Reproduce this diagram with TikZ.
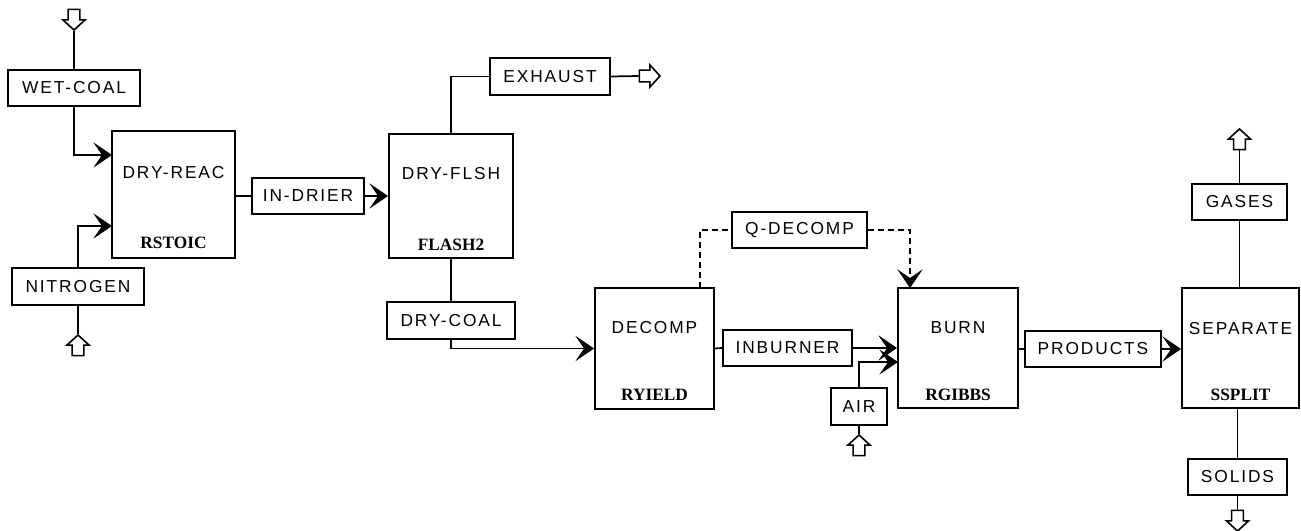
\documentclass[tikz,border=0pt]{standalone}
\usepackage{fontspec}
\newfontfamily\streamfont[LetterSpace=11]{Liberation Sans}
\newfontfamily\modelfont{Liberation Serif}
\usetikzlibrary{arrows.meta,shapes.arrows}

\begin{document}
\begin{tikzpicture}[x=0.75pt, y=-0.75pt,
    flow/.style={line width=1.3pt},
    flowto/.style={line width=1.3pt, -{Stealth[length=14pt,width=19pt,inset=6.5pt]}},
    heat/.style={line width=1.3pt, dash pattern=on 4.5pt off 3pt},
    stream/.style={draw, line width=1.4pt, inner sep=0pt, minimum height=27.5pt,
        font=\streamfont\fontsize{13}{13}\selectfont},
    block/.style={draw, line width=1.4pt, inner sep=0pt},
    blockname/.style={inner sep=0pt, font=\streamfont\fontsize{13}{13}\selectfont},
    model/.style={inner sep=0pt, font=\modelfont\bfseries\fontsize{13}{13}\selectfont},
    feed/.style={single arrow, draw, line width=1.2pt, inner sep=0pt, inner ysep=3.8pt,
        minimum height=15.5pt, single arrow head extend=3.9pt, single arrow tip angle=95}]
    \useasboundingbox (0,0) rectangle (1301,531);

    % Unit blocks
    \node[block, minimum width=92.25pt, minimum height=95.25pt] (DryReac) at (173.5,194.5) {};
    \node[blockname] (DryReacName) at (173.5,173) {DRY-REAC};
    \node[model] (DryReacModel) at (173.5,243) {RSTOIC};

    \node[block, minimum width=93pt, minimum height=93pt] (DryFlsh) at (451,196) {};
    \node[blockname] (DryFlshName) at (451,174) {DRY-FLSH};
    \node[model] (DryFlshModel) at (451,245) {FLASH2};

    \node[block, minimum width=89.25pt, minimum height=90.75pt] (Decomp) at (654.5,348.5) {};
    \node[blockname] (DecompName) at (654.5,328) {DECOMP};
    \node[model] (DecompModel) at (654.5,395) {RYIELD};

    \node[block, minimum width=90pt, minimum height=90pt] (Burn) at (958,348) {};
    \node[blockname] (BurnName) at (958,328) {BURN};
    \node[model] (BurnModel) at (958,395) {RGIBBS};

    \node[block, minimum width=87.75pt, minimum height=90pt] (Separate) at (1240.5,348) {};
    \node[blockname] (SeparateName) at (1240.5,329) {SEPARATE};
    \node[model] (SeparateModel) at (1240.5,395) {SSPLIT};

    % Stream labels
    \node[stream, minimum width=99pt] (WetCoal) at (74,88) {WET-COAL};
    \node[stream, minimum width=99pt] (Nitrogen) at (78,286.5) {NITROGEN};
    \node[stream, minimum width=84pt] (InDrier) at (308,196) {IN-DRIER};
    \node[stream, minimum width=90pt] (Exhaust) at (550,76.5) {EXHAUST};
    \node[stream, minimum width=96pt] (DryCoal) at (451,320.5) {DRY-COAL};
    \node[stream, minimum width=96.75pt] (InBurner) at (787.5,348) {INBURNER};
    \node[stream, minimum width=42pt] (Air) at (859,406.5) {AIR};
    \node[stream, minimum width=101.25pt] (QDecomp) at (799.5,230) {Q-DECOMP};
    \node[stream, minimum width=102pt] (Products) at (1093,349) {PRODUCTS};
    \node[stream, minimum width=71.25pt] (Gases) at (1239.5,202) {GASES};
    \node[stream, minimum width=74.25pt] (Solids) at (1237.5,477) {SOLIDS};

    % Feed and product ports
    \node[feed, rotate=-90] (WetCoalIn) at (74,17) {};
    \node[feed, rotate=90] (NitrogenIn) at (78,348) {};
    \node[feed, rotate=90] (AirIn) at (859,448) {};
    \node[feed] (ExhaustOut) at (647,76) {};
    \node[feed, rotate=90] (GasesOut) at (1239.5,142) {};
    \node[feed, rotate=-90] (SolidsOut) at (1237.5,518) {};

    % Inlet points on the blocks
    \coordinate (DryReacIn1) at (112,155);
    \coordinate (DryReacIn2) at (112,226);
    \coordinate (BurnAir) at (898,362);
    \coordinate (DecompQ) at (700,288);
    \coordinate (BurnQ) at (910,288);

    % Streams
    \draw[flow] (WetCoalIn.tip) -- (WetCoal.north);
    \draw[flowto] (WetCoal.south) |- (DryReacIn1);
    \draw[flow] (NitrogenIn.tip) -- (Nitrogen.south);
    \draw[flowto] (Nitrogen.north) |- (DryReacIn2);
    \draw[flow] (DryReac.east |- InDrier.west) -- (InDrier.west);
    \draw[flowto] (InDrier.east) -- (DryFlsh.west);
    \draw[flow] (DryFlsh.north) |- (Exhaust.west);
    \draw[flow] (Exhaust.east) -- (ExhaustOut.tail);
    \draw[flow] (DryFlsh.south) -- (DryCoal.north);
    \draw[flowto] (DryCoal.south) |- (Decomp.west);
    \draw[flow] (Decomp.east) -- (InBurner.west);
    \draw[flowto] (InBurner.east) -- (Burn.west);
    \draw[flow] (AirIn.tip) -- (Air.south);
    \draw[flowto] (Air.north) |- (BurnAir);
    \draw[flow] (Burn.east |- Products.west) -- (Products.west);
    \draw[flowto] (Products.east) -- (Separate.west |- Products.east);
    \draw[flow] (Gases.south) -- (Gases.south |- Separate.north);
    \draw[flow] (Gases.north) -- (GasesOut.tail);
    \draw[flow] (Solids.north |- Separate.south) -- (Solids.north);
    \draw[flow] (Solids.south) -- (SolidsOut.tail);

    % Heat stream
    \draw[heat] (DecompQ) |- (QDecomp.west);
    \draw[heat, -{Stealth[length=14pt,width=19pt,inset=6.5pt]}] (QDecomp.east) -| (BurnQ);
\end{tikzpicture}
\end{document}
